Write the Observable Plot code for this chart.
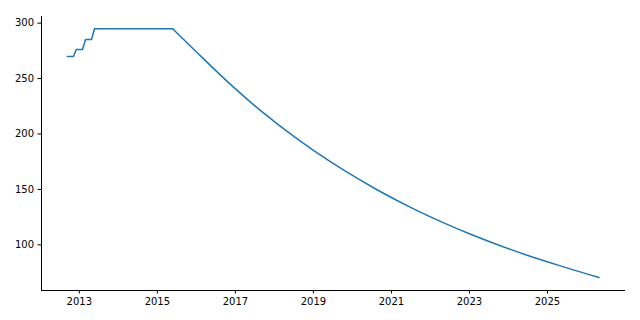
<!DOCTYPE html>
<html>
<head>
<meta charset="utf-8">
<script src="https://cdn.jsdelivr.net/npm/d3@7"></script>
<script src="https://cdn.jsdelivr.net/npm/@observablehq/plot@0.6"></script>
<style>
  html, body { margin: 0; padding: 0; background: #fff; }
  svg { display: block; }
</style>
</head>
<body>
<div id="chart"></div>
<script>
// Values (decimal years, value)
// Early stepped phase
const stepYears = [2012.69, 2012.85, 2012.92, 2013.08, 2013.16, 2013.31, 2013.39, 2015.39];
const stepValues = [270, 270, 276.3, 276.3, 285.3, 285.3, 295, 295];
// Decline phase
const declineYears = [2015.39, 2015.93, 2016.79, 2017.64, 2018.49, 2019.03, 2019.78,
  2020.63, 2021.49, 2022.34, 2023.03, 2023.62, 2024.48, 2025.33, 2026.32];
const declineValues = [295, 276.5, 247.5, 221.3, 198, 184.5, 167.3,
  149.7, 133.8, 119.8, 109.5, 101.4, 90.6, 81, 70.5];
const xTicks = [2013, 2015, 2017, 2019, 2021, 2023, 2025];
const yTicks = [100, 150, 200, 250, 300];
const xDomain = [2012.03, 2027.0];
const yDomain = [58.8, 306.0];

const steps = stepYears.map((x, i) => ({x, y: stepValues[i]}));
const decline = declineYears.map((x, i) => ({x, y: declineValues[i]}));

const chart = Plot.plot({
  width: 640,
  height: 320,
  marginLeft: 41,
  marginRight: 15,
  marginTop: 16,
  marginBottom: 30,
  style: {fontFamily: "DejaVu Sans", fontSize: "10px", color: "#000", background: "#fff"},
  x: {domain: xDomain, ticks: xTicks, tickFormat: d => String(d), tickSize: 3.5, tickPadding: 4, label: null},
  y: {domain: yDomain, ticks: yTicks, tickSize: 3.5, tickPadding: 4, label: null},
  marks: [
    Plot.ruleX([xDomain[0]], {stroke: "#000", strokeWidth: 1}),
    Plot.ruleY([yDomain[0]], {stroke: "#000", strokeWidth: 1}),
    Plot.line(steps, {x: "x", y: "y", stroke: "#1f77b4", strokeWidth: 1.5}),
    Plot.line(decline, {x: "x", y: "y", stroke: "#1f77b4", strokeWidth: 1.5, curve: "monotone-x"})
  ]
});
document.getElementById("chart").appendChild(chart);
</script>
</body>
</html>
